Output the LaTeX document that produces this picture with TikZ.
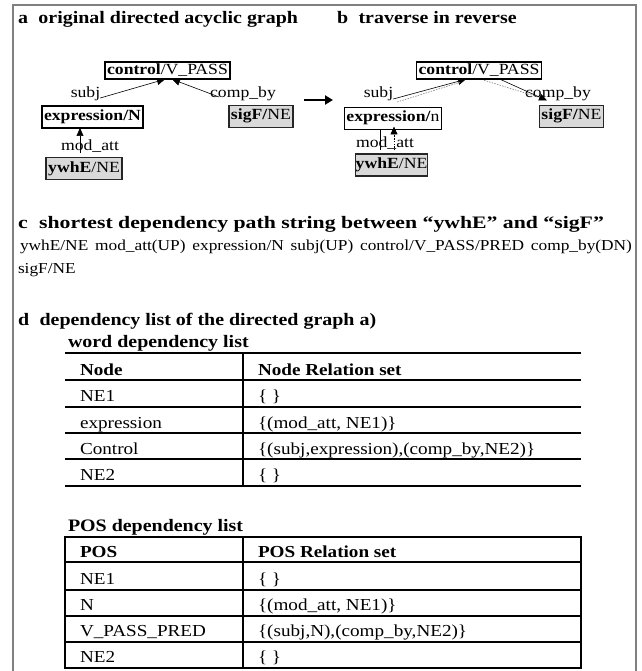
\documentclass[tikz,border=0pt]{standalone}
\usepackage{fontspec}
\setmainfont{Liberation Serif}[FakeStretch=1.14]
\usetikzlibrary{arrows.meta,calc}
\begin{document}
\begin{tikzpicture}[x=1pt,y=-1pt,
  every node/.style={inner sep=0pt,outer sep=0pt},
  hd/.style={anchor=base west,font=\fontsize{17.5}{20}\selectfont\bfseries},
  gbox/.style={draw,line width=1.6pt,inner xsep=2pt,inner ysep=3pt,text height=11.5pt,text depth=4.5pt,font=\fontsize{15.5}{18}\selectfont},
  cbox/.style={gbox,inner ysep=2pt,text height=11pt,text depth=2.5pt},
  nebox/.style={gbox,fill=gray!30,draw=black!85},
  lbl/.style={anchor=base,font=\fontsize{15.5}{18}\selectfont},
  edge/.style={line width=0.6pt,-{Triangle[length=8pt,width=7pt]}},
  plain/.style={line width=0.6pt},
  trace/.style={line width=0.6pt,gray,dash pattern=on 1.5pt off 1.2pt},
  bigarrow/.style={line width=2.5pt,-{Triangle[length=8pt,width=9pt]}},
  body/.style={anchor=base west,font=\fontsize{15.2}{19}\selectfont},
  tc/.style={anchor=base west,font=\fontsize{16.8}{20}\selectfont},
  tline/.style={line width=1.6pt},
  frame/.style={line width=1.3pt,gray}
]
\useasboundingbox (0,0) rectangle (641,671);
\draw[frame] (13,671) |- (636,5) -- (636,671);

% headings
\node[hd] (hdA) at (18,24) {a\hspace{0.6em}original directed acyclic graph};
\node[hd] (hdB) at (337,24) {b\hspace{0.6em}traverse in reverse};

% panel a
\node[cbox] (ctrlA) at (167.5,70.5) {\textbf{control}/V\_PASS};
\node[gbox] (exprA) at (92.5,117) {\textbf{expression/N}};
\node[nebox] (sigA) at (261,116.5) {\textbf{sigF/}NE};
\node[nebox] (ywhA) at (84,168.5) {\textbf{ywhE}/NE};
\node[lbl] (subjA) at (85.5,98) {subj};
\node[lbl] (compA) at (243,98) {comp\_by};
\node[lbl] (modA) at (90,150) {mod\_att};
\draw[edge] (subjA.base east) -- ($(ctrlA.south)+(-2.5,0)$);
\draw[edge] ($(compA.base west)+(9,-1)$) -- ($(ctrlA.south)+(4.5,0)$);
\draw[edge] ($(ywhA.north)+(-4,-4)$) -- ($(exprA.south)+(-12.5,0)$);

% arrow between panels
\coordinate (abL) at (304,100);
\coordinate (abR) at (333,100);
\draw[bigarrow] (abL) -- (abR);

% panel b
\node[cbox] (ctrlB) at (479,70.5) {\textbf{control}/V\_PASS};
\node[gbox] (exprB) at (393,118.5) {\textbf{expression/}n};
\node[nebox] (sigB) at (571.5,116.5) {\textbf{sigF/}NE};
\node[nebox,inner xsep=0pt] (ywhB) at (391.5,165) {\textbf{ywhE}/NE};
\node[lbl] (subjB) at (378.5,98) {subj};
\node[lbl] (compB) at (558,98) {comp\_by};
\node[lbl] (modB) at (385,148) {mod\_att};
\draw[edge] ($(subjB.base east)+(0,1)$) -- ($(ctrlB.south)+(-13,0)$);
\draw[trace] ($(subjB.base east)+(4,4)$) -- ($(ctrlB.south)+(-19,3)$);
\draw[edge] ($(ctrlB.south)+(21,0)$) -- ($(sigB.north)+(-24.5,-5)$);
\draw[trace] ($(ctrlB.south)+(5,1)$) -- ($(sigB.north)+(-35,-9)$);
\draw[plain] ($(exprB.south)+(-13,0)$) -- ($(exprB.south)+(-13,21)$);
\draw[trace,-{Triangle[length=8pt,width=7pt]},black] ($(exprB.south)+(1,21)$) -- ($(exprB.south)+(1,-3)$);

% section c
\node[hd] (hdC) at (18,228) {\scalebox{1.09}[1]{c\hspace{0.6em}shortest dependency path string between “ywhE” and “sigF”}};
\node[body] (pathA) at (20,250) {\makebox[612pt][s]{ywhE/NE mod\_att(UP) expression/N subj(UP) control/V\_PASS/PRED comp\_by(DN)}};
\node[body] (pathB) at (18,273) {sigF/NE};

% section d
\node[hd] (hdD) at (18,325) {d\hspace{0.6em}dependency list of the directed graph a)};
\node[hd] (wlbl) at (68,347) {word dependency list};
\foreach \yy in {353,380,407,433,459,486} \draw[tline] (65,\yy) -- (581,\yy);
\draw[tline] (243,353) -- (243,486);
\node[tc] (w0a) at (80,375) {\textbf{Node}};
\node[tc] (w0b) at (258,375) {\textbf{Node Relation set}};
\node[tc] (w1a) at (80,401) {NE1};
\node[tc] (w1b) at (258,401) {\{ \}};
\node[tc] (w2a) at (80,428) {expression};
\node[tc] (w2b) at (258,428) {\{(mod\_att, NE1)\}};
\node[tc] (w3a) at (80,454) {Control};
\node[tc] (w3b) at (258,454) {\{(subj,expression),(comp\_by,NE2)\}};
\node[tc] (w4a) at (80,480) {NE2};
\node[tc] (w4b) at (258,480) {\{ \}};

\node[hd] (plbl) at (68,531) {POS dependency list};
\draw[tline] (65,537) rectangle (581,668);
\foreach \yy in {562,590,616,642} \draw[tline] (65,\yy) -- (581,\yy);
\draw[tline] (243,537) -- (243,668);
\node[tc] (p0a) at (80,557) {\textbf{POS}};
\node[tc] (p0b) at (258,557) {\textbf{POS Relation set}};
\node[tc] (p1a) at (80,584) {NE1};
\node[tc] (p1b) at (258,584) {\{ \}};
\node[tc] (p2a) at (80,610) {N};
\node[tc] (p2b) at (258,610) {\{(mod\_att, NE1)\}};
\node[tc] (p3a) at (80,636) {V\_PASS\_PRED};
\node[tc] (p3b) at (258,636) {\{(subj,N),(comp\_by,NE2)\}};
\node[tc] (p4a) at (80,662) {NE2};
\node[tc] (p4b) at (258,662) {\{ \}};
\end{tikzpicture}
\end{document}
